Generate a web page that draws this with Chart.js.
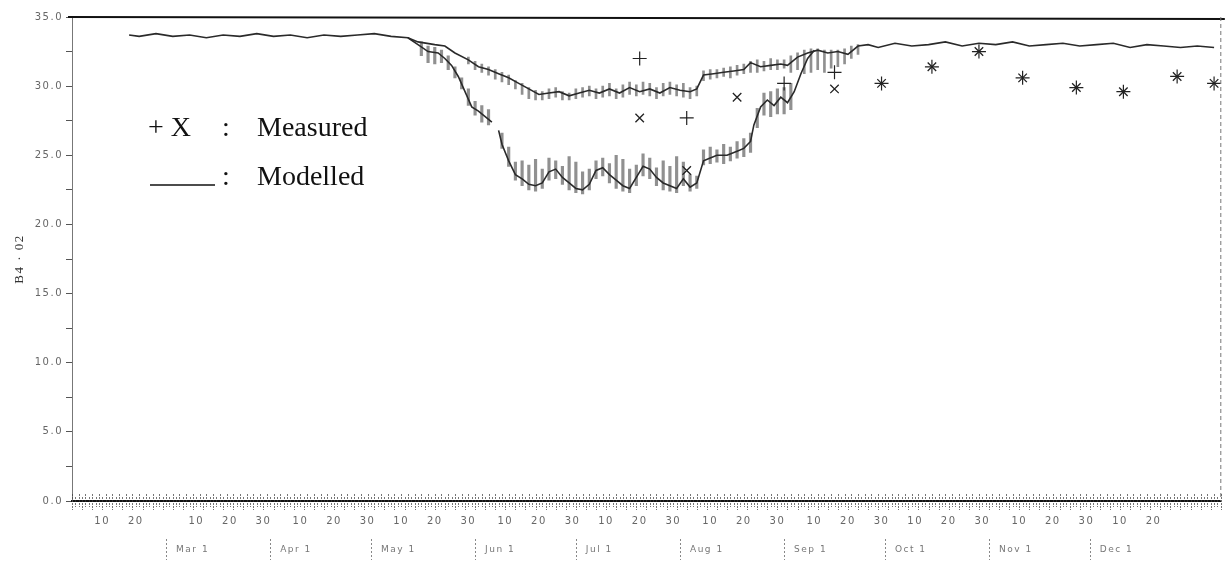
<!DOCTYPE html>
<html><head><meta charset="utf-8">
<script src="https://cdn.jsdelivr.net/npm/chart.js@4.4.1/dist/chart.umd.min.js"></script>
<style>html,body{margin:0;padding:0;background:#fff;} #wrap{width:1229px;height:571px;position:relative;} canvas{display:block;}</style>
</head><body><div id="wrap"><canvas id="c" width="1229" height="571"></canvas></div>
<script>
// x values: days since 1 February
const upperDays = [17,20,25,30,35,40,45,50,55,60,65,70,75,80,85,90,95,100,103,108,111,114,118,121,124,127,130,133,136,139,142,145,148,151,154,157,160,163,166,169,172,175,178,181,184,186,188,191,194,197,200,202,205,208,211,213,216,219,222,225,228,231,234,237,240,245,250,255,260,265,270,275,280,285,290,295,300,305,310,315,320,325,330,335,340];
const upperValues = [33.7,33.6,33.8,33.6,33.7,33.5,33.7,33.6,33.8,33.6,33.7,33.5,33.7,33.6,33.7,33.8,33.6,33.5,33.2,33.0,32.9,32.4,31.9,31.4,31.2,30.9,30.6,30.2,29.8,29.4,29.5,29.6,29.3,29.5,29.7,29.5,29.8,29.5,29.9,29.6,29.8,29.5,29.9,29.7,29.6,29.8,30.8,30.9,31.0,31.1,31.2,31.7,31.4,31.5,31.6,31.5,32.1,32.4,32.6,32.4,32.5,32.3,32.9,33.0,32.8,33.1,32.9,33.0,33.2,32.9,33.1,33.0,33.2,32.9,33.0,33.1,32.9,33.0,33.1,32.8,33.0,32.9,32.8,32.9,32.8];

const lowerDays = [100,103,106,109,111,113,115,117,119,121,123,125,126,127,128,130,132,134,136,138,140,142,144,146,148,150,152,154,156,158,160,162,164,166,168,170,172,174,176,178,180,182,184,186,188,190,192,195,198,200,202,203,205,207,209,211,213,215,217,219,221];
const lowerValues = [33.5,33.0,32.5,32.4,32.0,31.5,30.7,29.6,28.5,28.2,27.8,27.4,null,26.8,25.8,24.6,23.6,23.3,22.9,22.8,23.0,23.8,24.0,23.4,23.0,22.6,22.5,22.9,23.9,24.1,23.6,23.2,22.8,22.6,23.4,24.2,24.0,23.4,23.0,22.8,22.6,23.3,22.7,23.0,24.6,24.8,25.0,25.0,25.3,25.5,26.0,27.2,28.5,29.0,28.6,29.2,28.8,29.6,30.9,32.0,32.6];

// tidal spread (hatching) of modelled series
const upperHatchDays = [118,120,122,124,126,128,130,132,134,136,138,140,142,144,146,148,150,152,154,156,158,160,162,164,166,168,170,172,174,176,178,180,182,184,186,188,190,192,194,196,198,200,202,204,206,208,210,212,214,216,218,220,222,224,226,228,230,232,234];
const upperHatchLow = [31.6,31.2,31.0,30.8,30.5,30.3,30.1,29.8,29.4,29.1,29.0,29.0,29.1,29.2,29.0,29.0,29.1,29.2,29.3,29.1,29.2,29.3,29.1,29.2,29.4,29.3,29.4,29.3,29.1,29.3,29.4,29.3,29.2,29.1,29.3,30.4,30.5,30.6,30.7,30.6,30.8,30.9,31.0,31.0,31.1,31.2,31.2,31.3,31.0,31.2,30.9,31.0,31.2,31.0,31.3,31.4,31.6,32.0,32.3];
const upperHatchHigh = [32.1,31.8,31.6,31.4,31.2,31.0,30.8,30.4,30.2,29.9,29.7,29.6,29.8,29.9,29.6,29.5,29.8,29.9,30.0,29.8,30.0,30.2,29.8,30.1,30.3,30.1,30.3,30.2,29.9,30.2,30.3,30.1,30.2,29.9,30.0,31.1,31.2,31.2,31.3,31.4,31.5,31.6,31.8,31.9,31.8,32.0,31.9,31.9,32.2,32.4,32.6,32.7,32.7,32.6,32.6,32.6,32.7,32.9,33.0];

const lowerHatchDays = [104,106,108,110,112,114,116,118,120,122,124,128,130,132,134,136,138,140,142,144,146,148,150,152,154,156,158,160,162,164,166,168,170,172,174,176,178,180,182,184,186,188,190,192,194,196,198,200,202,204,206,208,210,212,214];
const lowerHatchLow = [32.2,31.7,31.6,31.7,31.2,30.6,29.8,28.6,27.9,27.4,27.2,25.5,24.2,23.2,22.8,22.5,22.4,22.6,23.2,23.3,22.9,22.5,22.3,22.2,22.5,23.3,23.5,23.0,22.6,22.4,22.3,22.8,23.5,23.3,22.8,22.5,22.4,22.3,22.8,22.4,22.6,24.3,24.4,24.5,24.4,24.6,24.8,24.9,25.2,27.0,27.9,27.8,28.0,28.0,28.3];
const lowerHatchHigh = [33.2,32.9,32.8,32.6,32.2,31.4,30.6,29.8,28.9,28.6,28.3,26.6,25.6,24.5,24.6,24.3,24.7,24.0,24.8,24.6,24.2,24.9,24.5,23.8,24.0,24.6,24.8,24.4,25.0,24.7,24.0,24.3,25.1,24.8,24.1,24.6,24.2,24.9,24.5,23.6,23.5,25.4,25.6,25.4,25.8,25.6,26.0,26.2,26.6,28.4,29.5,29.6,29.8,29.9,30.2];

// measured
const plusDays = [169,183,212,227,241,256,270,283,299,313,329,340];
const plusValues = [32.0,27.7,30.2,31.0,30.2,31.4,32.5,30.6,29.9,29.6,30.7,30.2];
const crossDays = [169,183,198,227,241,256,270,283,299,313,329,340];
const crossValues = [27.7,23.9,29.2,29.8,30.2,31.4,32.5,30.6,29.9,29.6,30.7,30.2];

// axis ticks
const dayTickDays = [9,19,37,47,57,68,78,88,98,108,118,129,139,149,159,169,179,190,200,210,221,231,241,251,261,271,282,292,302,312,322];
const dayTickLabels = ['10','20','10','20','30','10','20','30','10','20','30','10','20','30','10','20','30','10','20','30','10','20','30','10','20','30','10','20','30','10','20'];
const monthStartDays = [28,59,89,120,150,181,212,242,273,303];
const monthLabels = ['Mar 1','Apr 1','May 1','Jun 1','Jul 1','Aug 1','Sep 1','Oct 1','Nov 1','Dec 1'];
const yTickValues = [0,2.5,5,7.5,10,12.5,15,17.5,20,22.5,25,27.5,30,32.5,35];
const yAxisTitle = 'B4 · 02';

const pts = (xs, ys) => xs.map((x, i) => ({x: x, y: ys[i]}));
const rng = (xs, lo, hi) => xs.map((x, i) => ({x: x, y: [lo[i], hi[i]]}));

const axisFont = {family: 'DejaVu Sans', size: 10};
const axisColor = '#666';

const decor = {
  id: 'decor',
  beforeDraw(chart) { chart.ctx.letterSpacing = '1.5px'; },
  afterDatasetsDraw(chart) {
    const ctx = chart.ctx, a = chart.chartArea, xs = chart.scales.x;
    ctx.save();
    ctx.letterSpacing = '0px';
    // top frame line
    ctx.strokeStyle = '#111'; ctx.lineWidth = 2;
    ctx.beginPath(); ctx.moveTo(a.left - 4, a.top); ctx.lineTo(a.right + 4, a.top + 2); ctx.stroke();
    // right dashed frame
    ctx.strokeStyle = '#777'; ctx.lineWidth = 1; ctx.setLineDash([4, 3]);
    ctx.beginPath(); ctx.moveTo(a.right, a.top); ctx.lineTo(a.right, a.bottom); ctx.stroke();
    // daily ticks along the x axis
    ctx.setLineDash([2, 1]); ctx.strokeStyle = 'rgba(60,60,60,0.7)';
    for (let d = 0; d <= xs.max; d++) {
      const px = Math.round(xs.getPixelForValue(d)) + 0.5;
      const up = (d % 2 === 0) ? 7 : 4, dn = (d % 3 === 0) ? 9 : 6;
      ctx.beginPath(); ctx.moveTo(px, a.bottom - up); ctx.lineTo(px, a.bottom + dn); ctx.stroke();
    }
    // month ticks (dashed)
    const ms = chart.scales.xm;
    ctx.strokeStyle = '#888'; ctx.setLineDash([2, 2]);
    monthStartDays.forEach(d => {
      const px = Math.round(ms.getPixelForValue(d)) + 0.5;
      ctx.beginPath(); ctx.moveTo(px, ms.top + 3); ctx.lineTo(px, ms.top + 24); ctx.stroke();
    });
    ctx.setLineDash([]);
    // legend
    ctx.fillStyle = '#111';
    ctx.font = '28px "Liberation Serif"';
    ctx.textBaseline = 'alphabetic';
    ctx.fillText('+ X', 148, 136);
    ctx.fillText(':', 222, 136);
    ctx.fillText('Measured', 257, 136);
    ctx.fillText(':', 222, 185);
    ctx.fillText('Modelled', 257, 185);
    ctx.lineWidth = 1.5; ctx.strokeStyle = '#111';
    ctx.beginPath(); ctx.moveTo(150, 185); ctx.lineTo(215, 185); ctx.stroke();
    ctx.restore();
  }
};

new Chart(document.getElementById('c'), {
  type: 'line',
  data: {
    datasets: [
      {type: 'bar', label: 'upper spread', data: rng(upperHatchDays, upperHatchLow, upperHatchHigh), backgroundColor: 'rgba(70,70,70,0.6)', barThickness: 2, grouped: false, order: 5},
      {type: 'bar', label: 'lower spread', data: rng(lowerHatchDays, lowerHatchLow, lowerHatchHigh), backgroundColor: 'rgba(70,70,70,0.6)', barThickness: 2.5, grouped: false, order: 5},
      {type: 'line', label: 'Modelled (upper)', data: pts(upperDays, upperValues), borderColor: '#2a2a2a', borderWidth: 1.6, pointRadius: 0, tension: 0, order: 2},
      {type: 'line', label: 'Modelled (lower)', data: pts(lowerDays, lowerValues), borderColor: '#2a2a2a', borderWidth: 1.6, pointRadius: 0, tension: 0, spanGaps: false, order: 2},
      {type: 'scatter', label: 'Measured +', data: pts(plusDays, plusValues), pointStyle: 'cross', pointRadius: 7, borderColor: '#222', borderWidth: 1.2, backgroundColor: '#222', order: 1},
      {type: 'scatter', label: 'Measured X', data: pts(crossDays, crossValues), pointStyle: 'crossRot', pointRadius: 6, borderColor: '#222', borderWidth: 1.3, backgroundColor: '#222', order: 1}
    ]
  },
  options: {
    responsive: false,
    animation: false,
    layout: {padding: {top: 17, right: 4, left: 0, bottom: 0}},
    plugins: {legend: {display: false}, tooltip: {enabled: false}},
    scales: {
      x: {
        type: 'linear', position: 'bottom', min: 0, max: 342, offset: false,
        afterBuildTicks: s => { s.ticks = dayTickDays.map(v => ({value: v})); },
        afterFit: s => { s.height = 35; },
        grid: {display: false, drawTicks: false, offset: false},
        border: {display: true, color: '#111', width: 2},
        ticks: {autoSkip: false, maxRotation: 0, padding: 14, font: axisFont, color: axisColor,
          callback: (v, i) => dayTickLabels[i]}
      },
      xm: {
        type: 'linear', position: 'bottom', min: 0, max: 342, offset: false,
        afterBuildTicks: s => { s.ticks = monthStartDays.map(v => ({value: v})); },
        afterFit: s => { s.height = 35; },
        grid: {display: false, drawTicks: false, offset: false},
        border: {display: false},
        ticks: {autoSkip: false, maxRotation: 0, padding: 8, align: 'start', labelOffset: 10, font: {family: 'DejaVu Sans', size: 9}, color: '#777',
          callback: (v, i) => monthLabels[i]}
      },
      y: {
        type: 'linear', position: 'left', min: 0, max: 35,
        afterBuildTicks: s => { s.ticks = yTickValues.map(v => ({value: v})); },
        afterFit: s => { s.width = 72; },
        grid: {drawOnChartArea: false, drawTicks: true, tickLength: 6, color: '#555'},
        border: {display: true, color: '#777', width: 1, dash: [3, 2]},
        title: {display: true, text: yAxisTitle, font: {family: 'Liberation Serif', size: 13}, color: '#333', padding: {top: 12, bottom: 0}},
        ticks: {padding: 3, font: axisFont, color: axisColor,
          callback: v => (v % 5 === 0 ? v.toFixed(1) : '')}
      }
    }
  },
  plugins: [decor]
});
</script></body></html>
